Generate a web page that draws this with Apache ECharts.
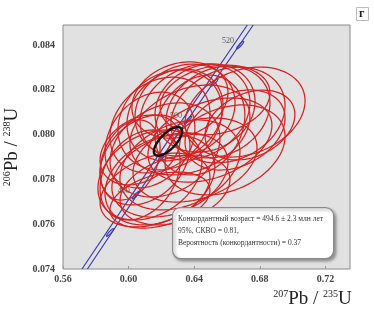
<!DOCTYPE html>
<html>
<head>
<meta charset="utf-8">
<script src="https://cdn.jsdelivr.net/npm/echarts@6/dist/echarts.min.js"></script>
<style>
  html, body { margin: 0; padding: 0; background: #fff; }
  #chart { width: 374px; height: 310px; }
</style>
</head>
<body>
<div id="chart"></div>
<script>
// x: 207Pb/235U, y: 206Pb/238U
const xTicks = [0.56, 0.60, 0.64, 0.68, 0.72];
const yTicks = [0.074, 0.076, 0.078, 0.080, 0.082, 0.084];

// analysis error ellipses: [cx, cy, half-width x, half-height y, correlation]
const spotEllipses = [
  [0.6710, 0.08101, 0.0366, 0.00201, 0.25],
  [0.6606, 0.08088, 0.0348, 0.00214, 0.20],
  [0.6545, 0.08101, 0.0317, 0.00205, 0.20],
  [0.6466, 0.08119, 0.0305, 0.00197, 0.15],
  [0.6405, 0.08101, 0.0335, 0.00214, 0.20],
  [0.6344, 0.08110, 0.0305, 0.00205, 0.15],
  [0.6283, 0.08088, 0.0293, 0.00205, 0.20],
  [0.6252, 0.08066, 0.0317, 0.00223, 0.20],
  [0.6191, 0.08043, 0.0305, 0.00214, 0.25],
  [0.6374, 0.08021, 0.0366, 0.00201, 0.30],
  [0.6496, 0.07976, 0.0378, 0.00188, 0.35],
  [0.6588, 0.07932, 0.0366, 0.00201, 0.30],
  [0.6130, 0.07976, 0.0274, 0.00214, 0.25],
  [0.6100, 0.07887, 0.0274, 0.00201, 0.30],
  [0.6130, 0.07820, 0.0317, 0.00201, 0.30],
  [0.6191, 0.07798, 0.0335, 0.00201, 0.30],
  [0.6252, 0.07820, 0.0354, 0.00188, 0.30],
  [0.6161, 0.07753, 0.0335, 0.00165, 0.35],
  [0.6313, 0.07865, 0.0366, 0.00201, 0.30],
  [0.6405, 0.07887, 0.0378, 0.00188, 0.30],
  [0.6222, 0.07932, 0.0335, 0.00210, 0.25],
  [0.6070, 0.07820, 0.0244, 0.00201, 0.30],
  [0.6435, 0.08043, 0.0274, 0.00223, 0.20],
  [0.6191, 0.07708, 0.0305, 0.00125, 0.35],
  [0.6283, 0.07753, 0.0335, 0.00156, 0.30],
  [0.6649, 0.08021, 0.0305, 0.00179, 0.30],
  [0.6009, 0.07887, 0.0183, 0.00179, 0.30],
  [0.6527, 0.08155, 0.0335, 0.00156, 0.20],
  [0.6313, 0.08155, 0.0293, 0.00170, 0.20],
  [0.6070, 0.07932, 0.0244, 0.00156, 0.30],
  [0.6740, 0.08043, 0.0274, 0.00156, 0.30]
];

// concordia age ellipse
const concordiaAge = [[0.6240, 0.07970, 0.0086, 0.00064, 0.70]];

// concordia curve (two lines of the decay-constant envelope)
const concordiaLeft = [[0.5716, 0.0740], [0.6238, 0.0797], [0.6724, 0.0849]];
const concordiaRight = [[0.5749, 0.0740], [0.6270, 0.0797], [0.6760, 0.0849]];

// age marks on the concordia, Ma
const ageMarks = [
  [0.5887, 0.07563, 470],
  [0.6044, 0.07730, 480],
  [0.6202, 0.07897, 490],
  [0.6362, 0.08065, 500],
  [0.6523, 0.08233, 510],
  [0.6680, 0.08400, 520]
];
const labelledAges = [480, 500, 520];

const serif = '"Liberation Serif", "DejaVu Serif", serif';

const ellipseSeries = (list, color, width, z) => ({
  type: 'custom',
  z: z,
  clip: true,
  silent: true,
  data: list,
  encode: { x: 0, y: 1 },
  renderItem: (params, api) => {
    const cx = api.value(0), cy = api.value(1);
    const sx = api.value(2), sy = api.value(3), r = api.value(4);
    const q = Math.sqrt(1 - r * r);
    const points = [];
    for (let i = 0; i <= 90; i++) {
      const t = (i / 90) * Math.PI * 2;
      points.push(api.coord([
        cx + sx * Math.cos(t),
        cy + sy * (r * Math.cos(t) + q * Math.sin(t))
      ]));
    }
    return {
      type: 'polygon',
      shape: { points },
      style: { fill: 'none', stroke: color, lineWidth: width }
    };
  }
});

const markEllipses = ageMarks.map(m => [m[0], m[1], 0.0022, 0.00017, 0.92]);

const titleRich = {
  m: { fontFamily: serif, fontSize: 19, color: '#222', lineHeight: 20 },
  s: { fontFamily: serif, fontSize: 10, color: '#222', verticalAlign: 'top', lineHeight: 20 }
};

const chart = echarts.init(document.getElementById('chart'));

const option = {
  backgroundColor: '#fff',
  animation: false,
  grid: {
    left: 63, top: 25, right: 24, bottom: 41,
    outerBoundsMode: 'none',
    containLabel: false,
    show: true,
    backgroundColor: '#e1e1e1',
    borderColor: '#8a8a8a',
    borderWidth: 1
  },
  xAxis: {
    type: 'value',
    min: 0.56,
    max: 0.735,
    interval: 0.04,
    name: '{s|207}{m|Pb / }{s|235}{m|U}',
    nameLocation: 'middle',
    nameGap: 15,
    nameTextStyle: {
      padding: [0, 0, 0, 212],
      rich: titleRich
    },
    axisLine: { show: false },
    axisTick: { show: true, inside: true, length: 3, lineStyle: { color: '#999' } },
    splitLine: { show: false },
    axisLabel: {
      showMaxLabel: false,
      margin: 5,
      fontFamily: serif,
      fontWeight: 'bold',
      fontSize: 10,
      color: '#444',
      formatter: v => v.toFixed(2)
    }
  },
  yAxis: {
    type: 'value',
    min: 0.074,
    max: 0.0849,
    interval: 0.002,
    name: '{s|206}{m|Pb / }{s|238}{m|U}',
    nameLocation: 'middle',
    nameRotate: 90,
    nameGap: 36,
    nameTextStyle: { rich: titleRich },
    axisLine: { show: false },
    axisTick: { show: false },
    splitLine: { show: false },
    axisLabel: {
      showMaxLabel: false,
      margin: 8,
      fontFamily: serif,
      fontWeight: 'bold',
      fontSize: 10,
      color: '#444',
      formatter: v => v.toFixed(3)
    }
  },
  series: [
    {
      type: 'line',
      data: concordiaLeft,
      symbol: 'none',
      z: 1,
      lineStyle: { color: '#3d3db0', width: 1.2 }
    },
    {
      type: 'line',
      data: concordiaRight,
      symbol: 'none',
      z: 1,
      lineStyle: { color: '#3d3db0', width: 1.2 }
    },
    ellipseSeries(markEllipses, '#3d3db0', 1.2, 1),
    {
      type: 'scatter',
      z: 1,
      symbolSize: 0,
      silent: true,
      data: ageMarks.filter(m => labelledAges.includes(m[2])),
      label: {
        show: true,
        position: 'left',
        distance: 6,
        offset: [0, -4],
        formatter: p => String(p.value[2]),
        fontFamily: serif,
        fontSize: 8,
        color: '#333'
      }
    },
    ellipseSeries(spotEllipses, '#d62020', 1.25, 3),
    ellipseSeries(concordiaAge, '#111', 2.4, 5)
  ],
  graphic: [
    {
      type: 'rect',
      left: 172, top: 207,
      shape: { width: 161, height: 51, r: 8 },
      style: {
        fill: '#fff', stroke: '#8a8a8a', lineWidth: 1.2,
        shadowColor: 'rgba(0,0,0,0.35)', shadowBlur: 3, shadowOffsetX: 2, shadowOffsetY: 2
      },
      z: 10
    },
    {
      type: 'text',
      left: 178, top: 213,
      z: 11,
      style: {
        text: 'Конкордантный возраст = 494.6 ± 2.3 млн лет\n95%, СКВО = 0.81,\nВероятность (конкордантности) = 0.37',
        fontFamily: serif,
        fontSize: 7.5,
        lineHeight: 12,
        fill: '#333'
      }
    },
    {
      type: 'rect',
      left: 356, top: 7,
      shape: { width: 12, height: 13 },
      style: { fill: '#fff', stroke: '#bbb', lineWidth: 1 },
      z: 10
    },
    {
      type: 'text',
      left: 359, top: 8,
      z: 11,
      style: {
        text: 'г',
        fontFamily: serif,
        fontWeight: 'bold',
        fontSize: 12,
        fill: '#222'
      }
    }
  ]
};

chart.setOption(option);
</script>
</body>
</html>
